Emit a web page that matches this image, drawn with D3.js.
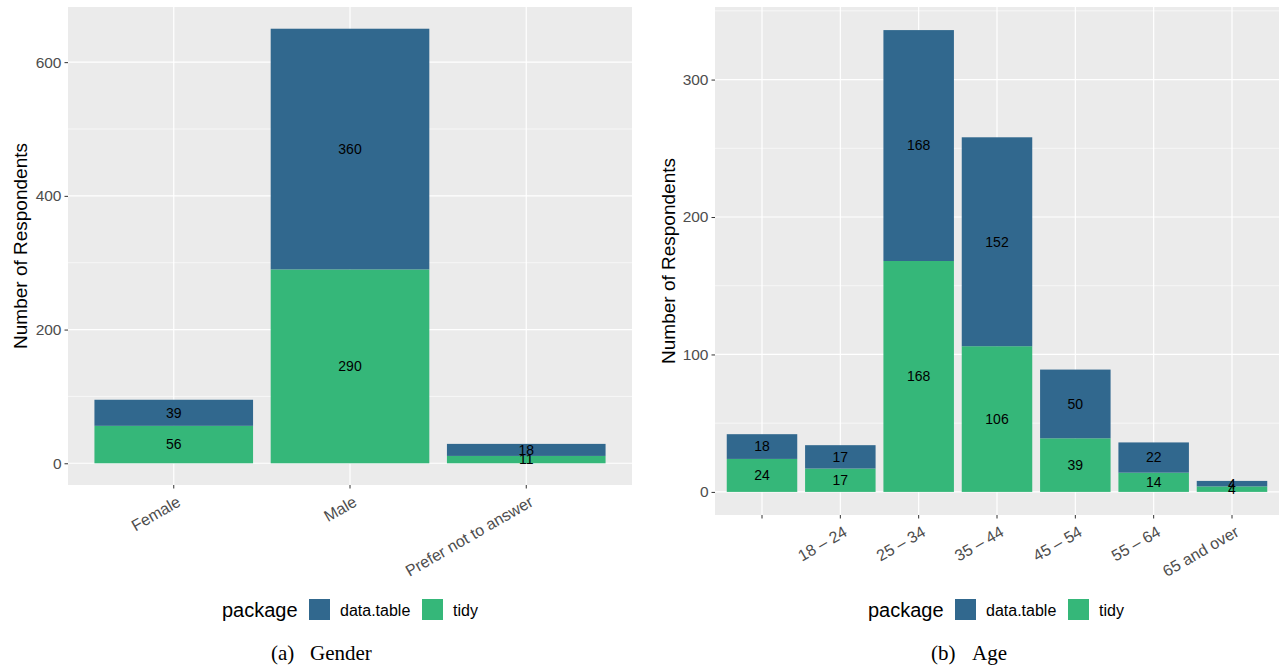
<!DOCTYPE html>
<html>
<head>
<meta charset="utf-8">
<script src="https://cdn.jsdelivr.net/npm/d3@7"></script>
<style>
  body { margin: 0; background: white; }
  svg { display: block; }
</style>
</head>
<body>
<div id="chart"></div>
<script>
// data
var packages = ["data.table", "tidy"];
var colors = ["#31688E", "#35B779"];

var genderCats = ["Female", "Male", "Prefer not to answer"];
var genderTidy = [56, 290, 11];
var genderDT = [39, 360, 18];
var genderTicks = [0, 200, 400, 600];

var ageCats = ["", "18 – 24", "25 – 34", "35 – 44", "45 – 54", "55 – 64", "65 and over"];
var ageTidy = [24, 17, 168, 106, 39, 14, 4];
var ageDT = [18, 17, 168, 152, 50, 22, 4];
var ageTicks = [0, 100, 200, 300];

var captionTags = ["(a)", "(b)"];
var captionWords = ["Gender", "Age"];

var W = 1281, H = 667;
var sans = '"Liberation Sans", Arial, sans-serif';
var svg = d3.select('#chart').append('svg')
  .attr('width', W)
  .attr('height', H)
  .style('font-family', sans);

svg.append('rect').attr('width', W).attr('height', H).attr('fill', 'white');

function panel(cats, tidy, dt, ticks, box, k) {
  var rows = cats.map(function(c, i) {
    return { cat: c, "tidy": tidy[i], "data.table": dt[i] };
  });
  var stack = d3.stack().keys(["tidy", "data.table"])(rows);
  var maxV = d3.max(rows, function(r) { return r.tidy + r["data.table"]; });

  var x = d3.scaleBand()
    .domain(cats)
    .range([box.x0, box.x1])
    .paddingInner(0.1)
    .paddingOuter(0.15);

  var y = d3.scaleLinear()
    .domain([-maxV * 0.05, maxV * 1.05])
    .range([box.y1, box.y0]);

  var g = svg.append('g');

  g.append('rect')
    .attr('x', box.x0).attr('y', box.y0)
    .attr('width', box.x1 - box.x0).attr('height', box.y1 - box.y0)
    .attr('fill', '#EBEBEB');

  // minor grid
  var step = ticks[1] - ticks[0];
  var minor = d3.range(step / 2, y.domain()[1], step);
  g.selectAll('.minor').data(minor).enter().append('line')
    .attr('x1', box.x0).attr('x2', box.x1)
    .attr('y1', function(d) { return y(d); })
    .attr('y2', function(d) { return y(d); })
    .attr('stroke', 'white').attr('stroke-width', 0.6);

  // major grid
  g.selectAll('.major').data(ticks).enter().append('line')
    .attr('x1', box.x0).attr('x2', box.x1)
    .attr('y1', function(d) { return y(d); })
    .attr('y2', function(d) { return y(d); })
    .attr('stroke', 'white').attr('stroke-width', 1.2);

  g.selectAll('.vgrid').data(cats).enter().append('line')
    .attr('x1', function(d) { return x(d) + x.bandwidth() / 2; })
    .attr('x2', function(d) { return x(d) + x.bandwidth() / 2; })
    .attr('y1', box.y0).attr('y2', box.y1)
    .attr('stroke', 'white').attr('stroke-width', 1.2);

  // bars
  stack.forEach(function(layer) {
    var col = colors[packages.indexOf(layer.key)];
    g.selectAll(null).data(layer).enter().append('rect')
      .attr('x', function(d) { return x(d.data.cat); })
      .attr('width', x.bandwidth())
      .attr('y', function(d) { return y(d[1]); })
      .attr('height', function(d) { return y(d[0]) - y(d[1]); })
      .attr('fill', col);
  });

  stack.forEach(function(layer) {
    g.selectAll(null).data(layer).enter().append('text')
      .attr('x', function(d) { return x(d.data.cat) + x.bandwidth() / 2; })
      .attr('y', function(d) { return y((d[0] + d[1]) / 2); })
      .attr('dy', '0.35em')
      .attr('text-anchor', 'middle')
      .attr('font-size', '14px')
      .attr('fill', 'black')
      .text(function(d) { return d.data[layer.key]; });
  });

  // y axis
  var yAxis = d3.axisLeft(y).tickValues(ticks).tickSize(3.5).tickPadding(3);
  var ya = g.append('g').attr('transform', 'translate(' + box.x0 + ',0)').call(yAxis);
  ya.select('.domain').remove();
  ya.selectAll('line').attr('stroke', '#333333');
  ya.selectAll('text').attr('fill', '#4D4D4D').attr('font-size', '15.5px')
    .style('font-family', sans);

  // x axis
  var xAxis = d3.axisBottom(x).tickSize(3.5).tickPadding(3);
  var xa = g.append('g').attr('transform', 'translate(0,' + box.y1 + ')').call(xAxis);
  xa.select('.domain').remove();
  xa.selectAll('line').attr('stroke', '#333333');
  xa.selectAll('text')
    .attr('fill', '#4D4D4D').attr('font-size', '16px')
    .style('font-family', sans)
    .attr('text-anchor', 'end')
    .attr('dy', null)
    .attr('y', 0)
    .attr('transform', 'translate(8,20) rotate(-30)');

  // y title
  g.append('text')
    .attr('transform', 'translate(' + box.titleX + ',' + ((box.y0 + box.y1) / 2) + ') rotate(-90)')
    .attr('text-anchor', 'middle')
    .attr('dy', '0.35em')
    .attr('font-size', '19px')
    .attr('fill', 'black')
    .text('Number of Respondents');

  // legend
  var lg = g.append('g').attr('transform', 'translate(' + box.legendX + ',0)');
  lg.append('text').attr('x', 0).attr('y', 610).attr('dy', '0.35em')
    .attr('font-size', '20px').attr('fill', 'black').text('package');
  var offs = [87, 200];
  packages.forEach(function(p, i) {
    lg.append('rect').attr('x', offs[i]).attr('y', 599)
      .attr('width', 21).attr('height', 21).attr('fill', colors[i]);
    lg.append('text').attr('x', offs[i] + 31).attr('y', 610).attr('dy', '0.35em')
      .attr('font-size', '16px').attr('fill', 'black').text(p);
  });

  // caption
  var serif = '"Liberation Serif", "Times New Roman", serif';
  g.append('text')
    .attr('x', box.tagX).attr('y', 660)
    .attr('font-size', '21px')
    .style('font-family', serif)
    .attr('fill', 'black')
    .text(captionTags[k]);
  g.append('text')
    .attr('x', box.wordX).attr('y', 660)
    .attr('font-size', '21px')
    .style('font-family', serif)
    .attr('fill', 'black')
    .text(captionWords[k]);
}

panel(genderCats, genderTidy, genderDT, genderTicks,
  { x0: 68, x1: 632, y0: 7, y1: 485, titleX: 20, legendX: 222, tagX: 271, wordX: 310 }, 0);
panel(ageCats, ageTidy, ageDT, ageTicks,
  { x0: 715, x1: 1279, y0: 7, y1: 515, titleX: 668, legendX: 868, tagX: 931, wordX: 972 }, 1);
</script>
</body>
</html>
